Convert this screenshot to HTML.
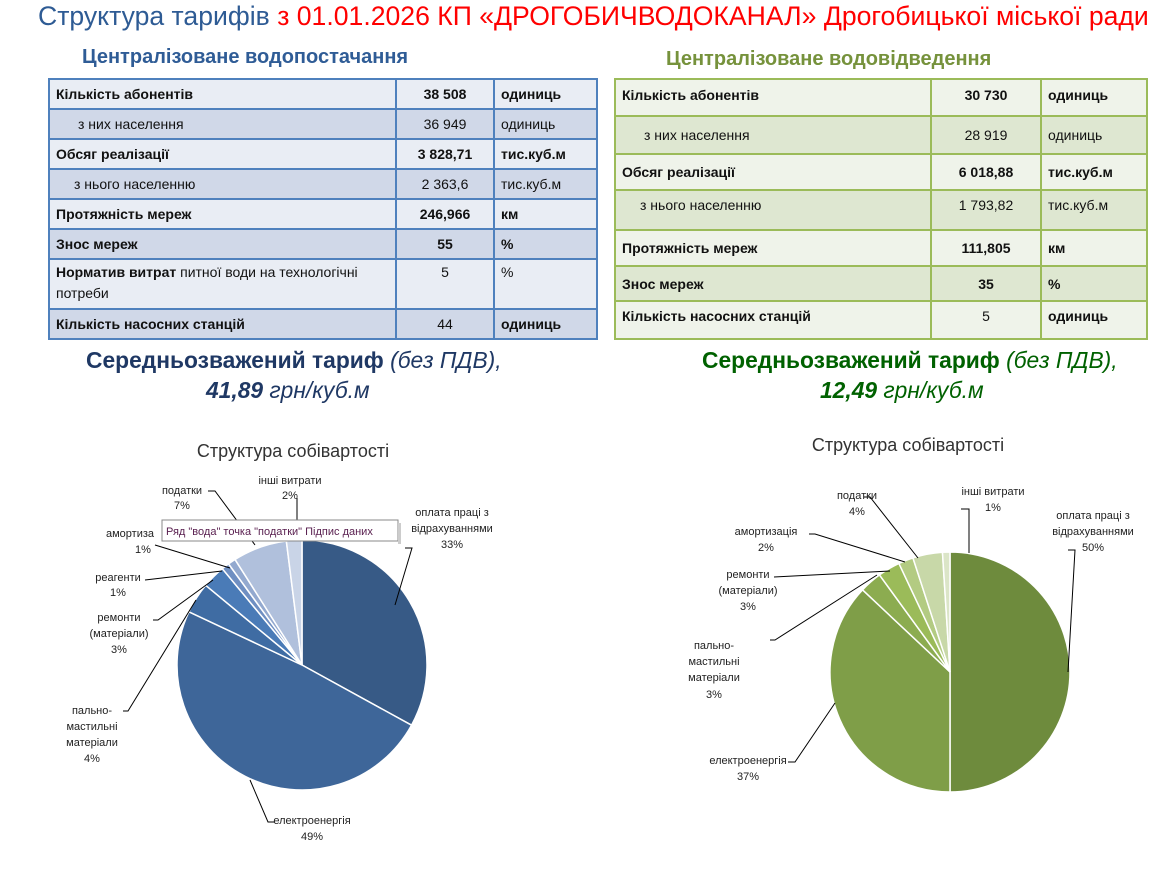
<!DOCTYPE html>
<html><head><meta charset="utf-8"><style>
body{margin:0;width:1176px;height:869px;background:#fff;position:relative;overflow:hidden;font-family:"Liberation Sans","DejaVu Sans",sans-serif}
.a{position:absolute;white-space:nowrap}
table{position:absolute;border-collapse:collapse;font-size:14px;color:#111}
td{padding:0 6px;vertical-align:middle}
.L td{border:2px solid #4f81bd}
.L tr.l{background:#e9edf4}.L tr.d{background:#d0d8e8}
.R td{border:2px solid #9bbb59}
.R tr.l{background:#eff3ea}.R tr.d{background:#dee7d1}
.b{font-weight:bold}
.c{text-align:center}
</style></head><body>
<div class="a" style="left:38px;top:1px;font-size:26.6px;color:#2e5b94">Структура тарифів <span style="color:#ff0000">з 01.01.2026 КП «ДРОГОБИЧВОДОКАНАЛ» Дрогобицької міської ради</span></div>
<div class="a" style="left:82px;top:46px;font-size:20px;font-weight:bold;color:#2f5c96">Централізоване водопостачання</div>
<div class="a" style="left:666px;top:48px;font-size:20px;font-weight:bold;color:#76923c">Централізоване водовідведення</div>

<table class="L" style="left:48px;top:78px;width:550px">
<colgroup><col style="width:347px"><col style="width:98px"><col></colgroup>
<tr class="l" style="height:30px"><td class="b">Кількість абонентів</td><td class="c b">38 508</td><td class="b">одиниць</td></tr>
<tr class="d" style="height:30px"><td style="padding-left:28px">з них населення</td><td class="c">36 949</td><td>одиниць</td></tr>
<tr class="l" style="height:30px"><td class="b">Обсяг реалізації</td><td class="c b">3 828,71</td><td class="b">тис.куб.м</td></tr>
<tr class="d" style="height:30px"><td style="padding-left:24px">з нього населенню</td><td class="c">2 363,6</td><td>тис.куб.м</td></tr>
<tr class="l" style="height:30px"><td class="b">Протяжність мереж</td><td class="c b">246,966</td><td class="b">км</td></tr>
<tr class="d" style="height:30px"><td class="b">Знос мереж</td><td class="c b">55</td><td class="b">%</td></tr>
<tr class="l" style="height:50px"><td style="line-height:21px;vertical-align:top;padding-top:2px"><b>Норматив витрат</b> питної води на технологічні потреби</td><td class="c" style="vertical-align:top;padding-top:4px">5</td><td style="vertical-align:top;padding-top:4px">%</td></tr>
<tr class="d" style="height:30px"><td class="b">Кількість насосних станцій</td><td class="c">44</td><td class="b">одиниць</td></tr>
</table>

<table class="R" style="left:614px;top:78px;width:534px">
<colgroup><col style="width:316px"><col style="width:110px"><col></colgroup>
<tr class="l" style="height:37px"><td class="b" style="vertical-align:top;padding-top:7px">Кількість абонентів</td><td class="c b" style="vertical-align:top;padding-top:7px">30 730</td><td class="b" style="vertical-align:top;padding-top:7px">одиниць</td></tr>
<tr class="d" style="height:38px"><td style="padding-left:28px">з них населення</td><td class="c">28 919</td><td>одиниць</td></tr>
<tr class="l" style="height:36px"><td class="b">Обсяг реалізації</td><td class="c b">6 018,88</td><td class="b">тис.куб.м</td></tr>
<tr class="d" style="height:40px"><td style="padding-left:24px;vertical-align:top;padding-top:6px">з нього населенню</td><td class="c" style="vertical-align:top;padding-top:6px">1 793,82</td><td style="vertical-align:top;padding-top:6px">тис.куб.м</td></tr>
<tr class="l" style="height:36px"><td class="b">Протяжність мереж</td><td class="c b">111,805</td><td class="b">км</td></tr>
<tr class="d" style="height:35px"><td class="b">Знос мереж</td><td class="c b">35</td><td class="b">%</td></tr>
<tr class="l" style="height:38px"><td class="b" style="vertical-align:top;padding-top:6px">Кількість насосних станцій</td><td class="c" style="vertical-align:top;padding-top:6px">5</td><td class="b" style="vertical-align:top;padding-top:6px">одиниць</td></tr>
</table>

<div class="a" style="left:86px;top:347px;font-size:22.8px;color:#1f3864"><b>Середньозважений тариф</b> <i>(без ПДВ),</i></div>
<div class="a" style="left:206px;top:377px;font-size:22.8px;color:#1f3864"><i><b>41,89</b> грн/куб.м</i></div>
<div class="a" style="left:702px;top:347px;font-size:22.8px;color:#006100"><b>Середньозважений тариф</b> <i>(без ПДВ),</i></div>
<div class="a" style="left:820px;top:377px;font-size:22.8px;color:#006100"><i><b>12,49</b> грн/куб.м</i></div>

<svg class="a" style="left:0;top:0" width="1176" height="869" id="s" font-family="Liberation Sans, DejaVu Sans, sans-serif">
<g font-size="18" fill="#333" text-anchor="middle">
<text x="293" y="457">Структура собівартості</text>
<text x="908" y="451">Структура собівартості</text>
</g>
<g id="p1"></g><g id="p2"></g>
<g stroke="#000" stroke-width="1" fill="none">
<polyline points="208,491 215,491 255,545"/>
<polyline points="297,498 297,541"/>
<polyline points="405,548 412,548 395,605"/>
<polyline points="155,545 230,568"/>
<polyline points="145,580 222,571"/>
<polyline points="153,620 158,620 213,580"/>
<polyline points="123,711 128,711 196,600"/>
<polyline points="275,822 268,822 250,780"/>
<polyline points="864,497 870,497 918,558"/>
<polyline points="961,509 969,509 969,553"/>
<polyline points="809,534 815,534 905,562"/>
<polyline points="774,577 890,571"/>
<polyline points="770,640 775,640 877,575"/>
<polyline points="788,762 795,762 835,703"/>
<polyline points="1068,550 1075,550 1068,672"/>
</g>
<g font-size="11" fill="#222" text-anchor="middle">
<text x="290" y="484">інші витрати</text><text x="290" y="499">2%</text>
<text x="182" y="494">податки</text><text x="182" y="509">7%</text>
<text x="130" y="537">амортиза</text><text x="143" y="553">1%</text>
<text x="118" y="581">реагенти</text><text x="118" y="596">1%</text>
<text x="119" y="621">ремонти</text><text x="119" y="637">(матеріали)</text><text x="119" y="653">3%</text>
<text x="92" y="714">пально-</text><text x="92" y="730">мастильні</text><text x="92" y="746">матеріали</text><text x="92" y="762">4%</text>
<text x="312" y="824">електроенергія</text><text x="312" y="840">49%</text>
<text x="452" y="516">оплата праці з</text><text x="452" y="532">відрахуваннями</text><text x="452" y="548">33%</text>
<text x="993" y="495">інші витрати</text><text x="993" y="511">1%</text>
<text x="857" y="499">податки</text><text x="857" y="515">4%</text>
<text x="766" y="535">амортизація</text><text x="766" y="551">2%</text>
<text x="748" y="578">ремонти</text><text x="748" y="594">(матеріали)</text><text x="748" y="610">3%</text>
<text x="714" y="649">пально-</text><text x="714" y="665">мастильні</text><text x="714" y="681">матеріали</text><text x="714" y="698">3%</text>
<text x="748" y="764">електроенергія</text><text x="748" y="780">37%</text>
<text x="1093" y="519">оплата праці з</text><text x="1093" y="535">відрахуваннями</text><text x="1093" y="551">50%</text>
</g>
<rect x="162" y="520" width="236" height="21" fill="#fff" stroke="#888"/>
<rect x="398" y="523" width="3" height="21" fill="#ccc"/>
<text x="166" y="535" font-size="11" fill="#5a2050">Ряд "вода" точка "податки" Підпис даних</text>
</svg>
<script>
function pie(id,cx,cy,r,vals,cols){
 var g=document.getElementById(id),a=0,tot=0,s="";
 vals.forEach(function(v){tot+=v});
 vals.forEach(function(v,i){
  var a0=a/tot*2*Math.PI,a1=(a+v)/tot*2*Math.PI;a+=v;
  var x0=cx+r*Math.sin(a0),y0=cy-r*Math.cos(a0),x1=cx+r*Math.sin(a1),y1=cy-r*Math.cos(a1);
  s+='<path d="M'+cx+','+cy+'L'+x0+','+y0+'A'+r+','+r+' 0 '+((a1-a0)>Math.PI?1:0)+' 1 '+x1+','+y1+'Z" fill="'+cols[i]+'" stroke="#fff" stroke-width="1.5"/>';
 });
 g.innerHTML=s;
}
pie("p1",302,665,125,[33,49,4,3,1,1,7,2],["#375a86","#3e6699","#3f6ca3","#4a7bb7","#6f8fc2","#93a9cf","#b0c0dc","#c9d4e7"]);
pie("p2",950,672,120,[50,37,3,3,2,4,1],["#6e8b3d","#7f9e48","#8cac50","#9bbb59","#b3cb82","#c8d8a8","#dbe5c7"]);
</script>
</body></html>
